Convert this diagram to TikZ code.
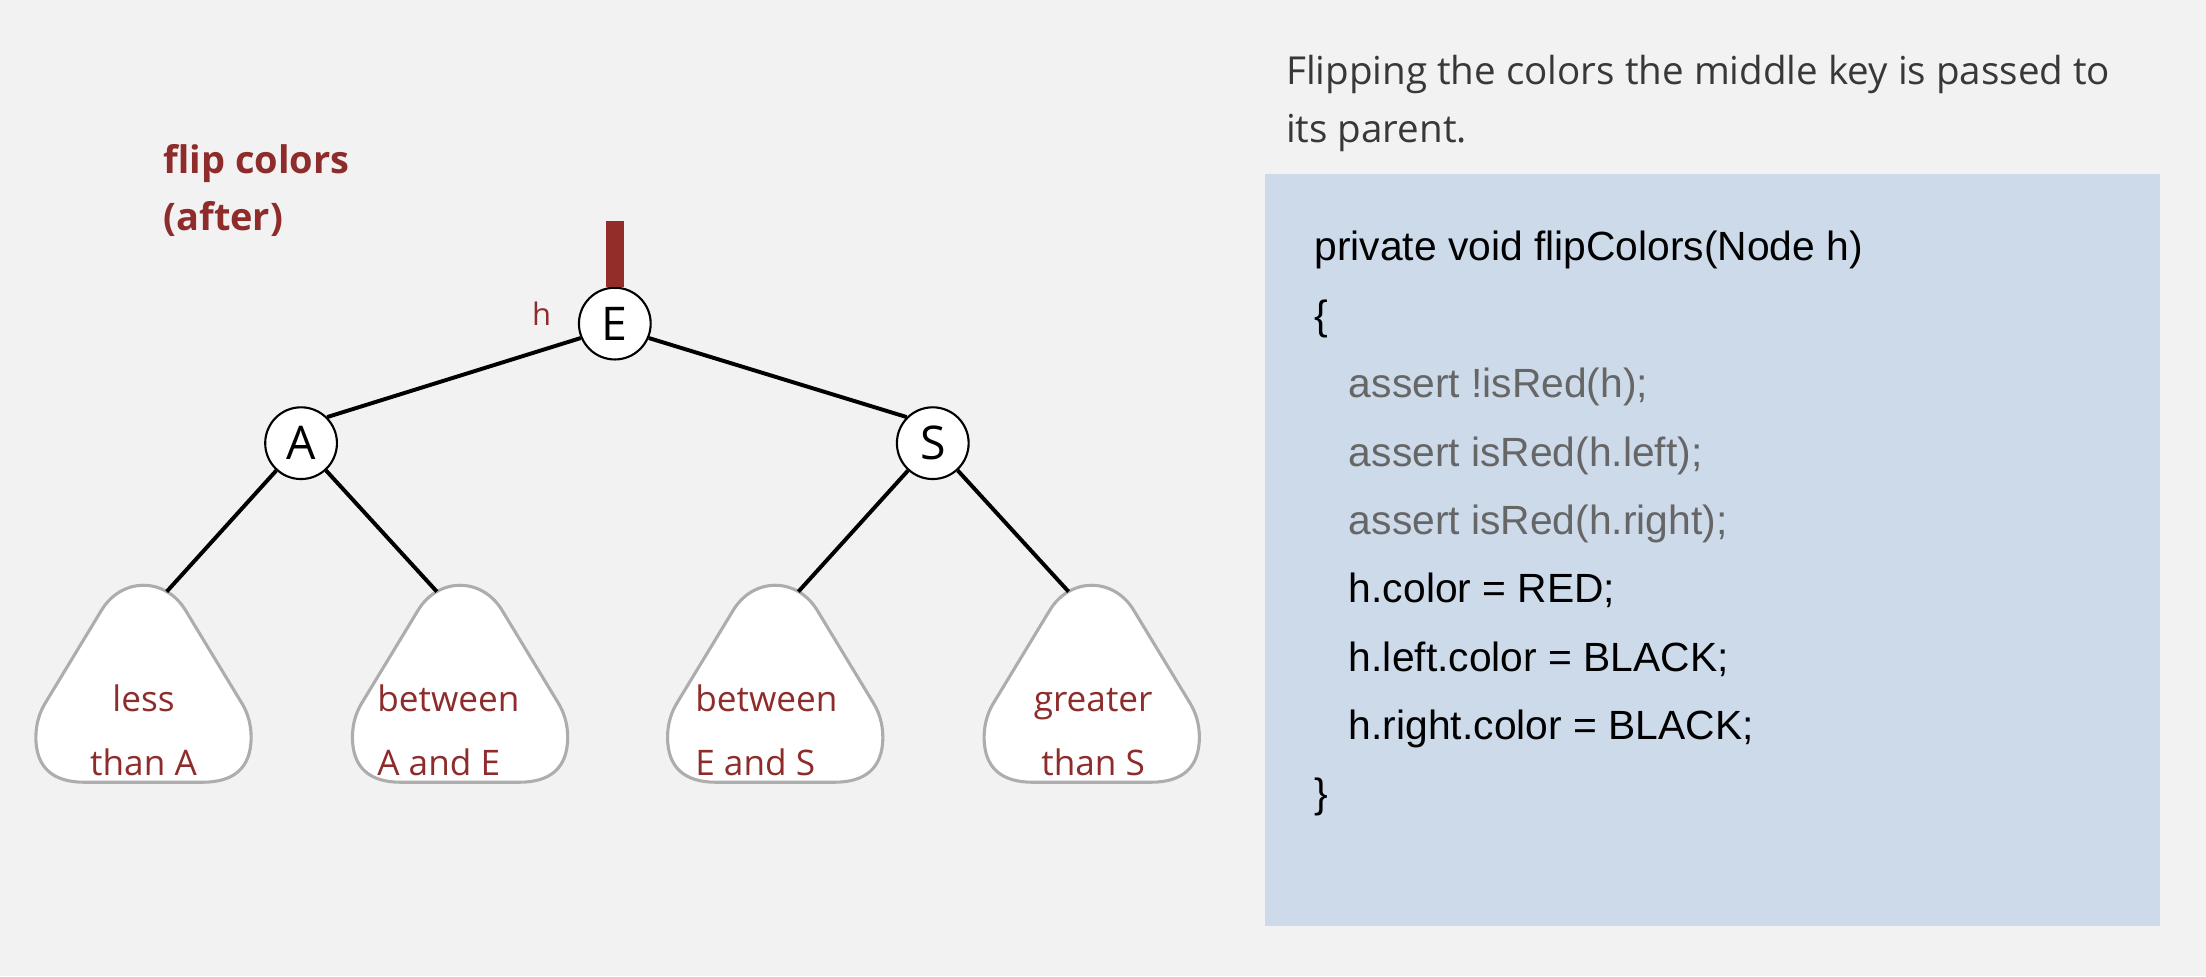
\documentclass[tikz,border=0pt]{standalone}
\usepackage{fontspec}
\setmainfont{Open Sans}
\newfontfamily\codefont{Liberation Sans}
\usepackage{xcolor}
\definecolor{pagebg}{HTML}{F2F2F2}
\definecolor{darkred}{HTML}{8E2C2C}
\definecolor{barred}{HTML}{922D2A}
\definecolor{codebg}{HTML}{CDDAEA}
\definecolor{leafgray}{HTML}{ADADAD}
\definecolor{textgray}{HTML}{383838}
\definecolor{codegray}{HTML}{666666}

\begin{document}
\begin{tikzpicture}[x=1pt,y=-1pt,
    keynode/.style={circle, draw=black, line width=1.5pt, fill=white, minimum size=51pt, inner sep=0pt, font=\fontsize{33}{38}\selectfont},
    link/.style={line width=2.8pt},
    leaftext/.style={text=darkred, font=\fontsize{25}{45}\selectfont, inner sep=0pt},
    codeline/.style={anchor=base west, inner sep=0pt, font=\codefont\fontsize{29}{33}\selectfont},
    leaf/.pic={
      \filldraw[draw=leafgray, line width=2.2pt, fill=white] (0,140) -- (42,140)
        .. controls (64,140) and (76.5,130) .. (76.5,108)
        .. controls (76.5,98) and (73.6,90) .. (70,84) -- (30,18)
        .. controls (15.6,-6) and (-15.6,-6) .. (-30,18) -- (-70,84)
        .. controls (-73.6,90) and (-76.5,98) .. (-76.5,108)
        .. controls (-76.5,130) and (-64,140) .. (-42,140) -- cycle;
      \coordinate (-l) at (-16.5,4.5);
      \coordinate (-r) at (16.5,4.5);
    }
  ]
  \fill[pagebg] (0,0) rectangle (1568,694);
  \useasboundingbox (0,0) rectangle (1568,694);

  % tree
  \node[keynode] (E) at (437,230) {E};
  \node[keynode] (A) at (214,315) {A};
  \node[keynode] (S) at (663,315) {S};
  \coordinate (up) at (437,157);
  \draw[barred, line width=12.8pt] (up) -- (E.north);

  \pic (l1) at (102,416) {leaf};
  \pic (l2) at (327,416) {leaf};
  \pic (l3) at (551,416) {leaf};
  \pic (l4) at (776,416) {leaf};

  \draw[link] (E.203) -- (A.45);
  \draw[link] (E.-23) -- (S.135);
  \draw[link] (A) -- (l1-r);
  \draw[link] (A) -- (l2-l);
  \draw[link] (S) -- (l3-r);
  \draw[link] (S) -- (l4-l);

  \node[leaftext, anchor=base, align=center] (t1) at (102,551) {less\\than A};
  \node[leaftext, anchor=base west, align=left] (t2) at (268,551) {between\\A and E};
  \node[leaftext, anchor=base west, align=left] (t3) at (494,551) {between\\E and S};
  \node[leaftext, anchor=base, align=center] (t4) at (777,551) {greater\\than S};

  \node[text=darkred, anchor=base, inner sep=0pt, font=\fontsize{22}{26}\selectfont] (h) at (385,231.7) {h};
  \node[text=darkred, anchor=base west, align=left, inner sep=0pt, font=\bfseries\fontsize{27}{40}\selectfont] (title) at (116,163.5) {flip colors\\(after)};

  % explanation and code
  \node[text=textgray, anchor=base west, align=left, inner sep=0pt, font=\fontsize{27.4}{40.6}\selectfont] (note) at (914,101) {Flipping the colors the middle key is passed to\\its parent.};
  \fill[codebg] (899,124) rectangle (1535,658);
  \node[codeline] (c1) at (934,185.5) {private void flipColors(Node h)};
  \node[codeline] (c2) at (934,234.1) {\{};
  \node[codeline, text=codegray] (c3) at (958.6,282.7) {assert !isRed(h);};
  \node[codeline, text=codegray] (c4) at (958.6,331.3) {assert isRed(h.left);};
  \node[codeline, text=codegray] (c5) at (958.6,379.9) {assert isRed(h.right);};
  \node[codeline] (c6) at (958.6,428.5) {h.color = RED;};
  \node[codeline] (c7) at (958.6,477.1) {h.left.color = BLACK;};
  \node[codeline] (c8) at (958.6,525.7) {h.right.color = BLACK;};
  \node[codeline] (c9) at (934,574.3) {\}};
\end{tikzpicture}
\end{document}
